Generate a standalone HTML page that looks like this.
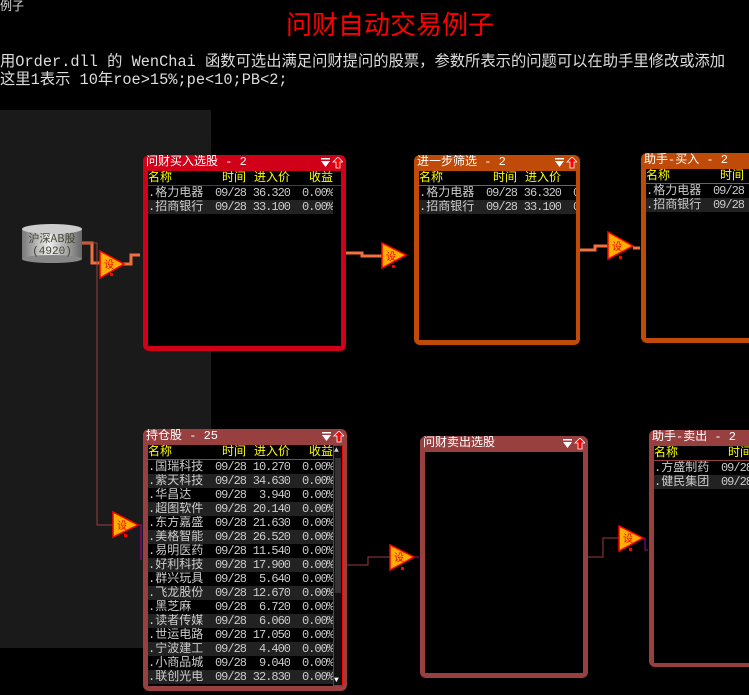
<!DOCTYPE html>
<html><head><meta charset="utf-8">
<style>
*{margin:0;padding:0;box-sizing:border-box}
body{width:749px;height:695px;background:#000;position:relative;overflow:hidden;font-family:"Liberation Mono","Noto Sans CJK SC","WenQuanYi Zen Hei",monospace;color:#ddd}
.abs{position:absolute}
.t{font-size:12px;line-height:14px;white-space:nowrap}
.panel{position:absolute;border-radius:6px;overflow:hidden}
.ttl{position:absolute;left:3px;top:0;color:#fff;font-size:12px;line-height:15px;white-space:nowrap}
.icons{position:absolute;right:3px;top:2px;width:24px;height:12px}
.inner{position:absolute;background:#000;overflow:hidden}
table{border-collapse:collapse;font-size:12px;line-height:14px;white-space:nowrap;table-layout:fixed}
td{padding:0;height:14px;overflow:hidden;color:#ccc}
td.n{width:56px;text-align:left}
td.tm{width:42px;text-align:right;letter-spacing:-1px}
td.p{width:44px;text-align:right;letter-spacing:-1px}
td.g{width:43px;text-align:right;letter-spacing:-1px}
tr.h td{color:#ff0;height:14px;letter-spacing:0}
tr.alt td{background:#222}
</style></head><body>
<div class="abs t" style="left:0;top:0;color:#ddd">例子</div>
<div class="abs" style="left:286px;top:8px;color:#f00;font-size:26px;line-height:32px;white-space:nowrap;font-family:'Noto Sans CJK SC',sans-serif">问财自动交易例子</div>
<div class="abs" style="left:0;top:53px;font-size:15.3px;line-height:18px;color:#ddd;white-space:nowrap">用Order.dll 的 WenChai 函数可选出满足问财提问的股票，参数所表示的问题可以在助手里修改或添加<br>这里1表示 10年roe&gt;15%;pe&lt;10;PB&lt;2;</div>
<div class="abs" style="left:0;top:110px;width:211px;height:538px;background:#1a1a1a"></div>

<svg class="abs" style="left:0;top:0" width="749" height="695">
 <defs><linearGradient id="cg" x1="0" x2="1"><stop offset="0" stop-color="#777"/><stop offset=".45" stop-color="#eee"/><stop offset="1" stop-color="#666"/></linearGradient></defs>
 <rect x="22" y="229" width="60" height="30" fill="url(#cg)"/>
 <ellipse cx="52" cy="259" rx="30" ry="4" fill="#888"/>
 <ellipse cx="52" cy="229" rx="30" ry="5" fill="#ccc"/>
 <text x="52" y="242" font-size="11" text-anchor="middle" fill="#443" font-family="Noto Sans CJK SC,sans-serif">沪深AB股</text>
 <text x="52" y="254" font-size="11" text-anchor="middle" fill="#443" font-family="Liberation Mono,monospace">(4920)</text>
 <g fill="none" stroke="#f07040" stroke-width="3">
  <path d="M82 243 H92 V263 H100"/>
  <path d="M123 264 H131 V255 H140"/>
  <path d="M346 253 H362 V256 H382"/>
  <path d="M580 250 H595 V246 H608"/>
  <path d="M633 248 H640"/>
 </g>
 <g fill="none" stroke="#9a4040" stroke-width="1">
  <path d="M82 243 H97 V525 H113"/>
  <path d="M347 565 H368 V557 H390"/>
  <path d="M588 557 H603 V538 H619"/>
 </g>
 <g fill="none" stroke="#b000b0" stroke-width="1">
  <path d="M138 525 H141 V560"/>
  <path d="M414 557 H419"/>
  <path d="M643 538 H645 V550 H648"/>
 </g>
 <g stroke="#f00" stroke-width="1.5" fill="#ffb000">
  <path d="M100 251 L100 278 L124 264 Z"/>
  <path d="M382 243 L382 268 L406 255 Z"/>
  <path d="M608 232 L608 259 L633 246 Z"/>
  <path d="M113 512 L113 537 L138 525 Z"/>
  <path d="M390 545 L390 570 L414 557 Z"/>
  <path d="M619 526 L619 551 L643 538 Z"/>
 </g>
 <g font-size="10" fill="#e00" font-family="Noto Sans CJK SC,sans-serif">
  <text x="104" y="268">设</text><text x="386" y="260">设</text><text x="612" y="250">设</text>
  <text x="117" y="529">设</text><text x="394" y="561">设</text><text x="623" y="542">设</text>
 </g>
 <g fill="#f00">
  <rect x="110" y="273" width="3" height="3"/><rect x="392" y="265" width="3" height="3"/><rect x="619" y="256" width="3" height="3"/>
  <rect x="124" y="534" width="3" height="3"/><rect x="401" y="567" width="3" height="3"/><rect x="629" y="548" width="3" height="3"/>
 </g>
</svg>

<!-- Panel 1 -->
<div class="panel" style="left:143px;top:155px;width:203px;height:196px;background:#d00018">
 <div class="ttl">问财买入选股 - 2</div>
 <svg class="icons" viewBox="0 0 24 12"><rect x="2" y="1" width="9" height="1.5" fill="#fff"/><path d="M2 4 H11 L6.5 10 Z" fill="#fff"/><path d="M19 0 L24 5 H21 V11 H17 V5 H14 Z" fill="#f00" stroke="#fff" stroke-width="0.8"/></svg>
 <div class="inner" style="left:5px;top:16px;width:193px;height:175px">
  <table><tr class="h"><td class="n">名称</td><td class="tm">时间</td><td class="p">进入价</td><td class="g">收益</td></tr></table>
  <div style="height:1px;background:#d00018;width:193px"></div>
  <table><tr><td class="n">.格力电器</td><td class="tm">09/28</td><td class="p">36.320</td><td class="g">0.00%</td></tr>
  <tr class="alt"><td class="n">.招商银行</td><td class="tm">09/28</td><td class="p">33.100</td><td class="g">0.00%</td></tr></table>
 </div>
</div>

<!-- Panel 2 -->
<div class="panel" style="left:414px;top:155px;width:166px;height:190px;background:#c04a08">
 <div class="ttl">进一步筛选 - 2</div>
 <svg class="icons" viewBox="0 0 24 12"><rect x="2" y="1" width="9" height="1.5" fill="#fff"/><path d="M2 4 H11 L6.5 10 Z" fill="#fff"/><path d="M19 0 L24 5 H21 V11 H17 V5 H14 Z" fill="#f00" stroke="#fff" stroke-width="0.8"/></svg>
 <div class="inner" style="left:5px;top:16px;width:157px;height:169px">
  <table style="width:185px"><tr class="h"><td class="n">名称</td><td class="tm">时间</td><td class="p">进入价</td><td class="g">收益</td></tr></table>
  <div style="height:1px;background:#c04a08;width:157px"></div>
  <table style="width:185px"><tr><td class="n">.格力电器</td><td class="tm">09/28</td><td class="p">36.320</td><td class="g">0.00%</td></tr>
  <tr class="alt"><td class="n">.招商银行</td><td class="tm">09/28</td><td class="p">33.100</td><td class="g">0.00%</td></tr></table>
 </div>
</div>

<!-- Panel 3 -->
<div class="panel" style="left:641px;top:153px;width:120px;height:190px;background:#c04a08">
 <div class="ttl">助手-买入 - 2</div>
 <div class="inner" style="left:5px;top:16px;width:115px;height:169px">
  <table style="width:185px"><tr class="h"><td class="n">名称</td><td class="tm">时间</td><td class="p">进入价</td><td class="g">收益</td></tr></table>
  <div style="height:1px;background:#c04a08;width:115px"></div>
  <table style="width:185px"><tr><td class="n">.格力电器</td><td class="tm">09/28</td><td class="p">36.320</td><td class="g">0.00%</td></tr>
  <tr class="alt"><td class="n">.招商银行</td><td class="tm">09/28</td><td class="p">33.100</td><td class="g">0.00%</td></tr></table>
 </div>
</div>

<!-- Panel 4 -->
<div class="panel" style="left:143px;top:429px;width:204px;height:262px;background:#984040">
 <div class="ttl">持仓股 - 25</div>
 <svg class="icons" viewBox="0 0 24 12"><rect x="2" y="1" width="9" height="1.5" fill="#fff"/><path d="M2 4 H11 L6.5 10 Z" fill="#fff"/><path d="M19 0 L24 5 H21 V11 H17 V5 H14 Z" fill="#f00" stroke="#fff" stroke-width="0.8"/></svg>
 <div class="inner" style="left:5px;top:16px;width:195px;height:241px">
  <table><tr class="h"><td class="n">名称</td><td class="tm">时间</td><td class="p">进入价</td><td class="g">收益</td></tr></table>
  <div style="height:1px;background:#984040;width:185px"></div>
  <table>
  <tr><td class="n">.国瑞科技</td><td class="tm">09/28</td><td class="p">10.270</td><td class="g">0.00%</td></tr>
  <tr class="alt"><td class="n">.紫天科技</td><td class="tm">09/28</td><td class="p">34.630</td><td class="g">0.00%</td></tr>
  <tr><td class="n">.华昌达</td><td class="tm">09/28</td><td class="p">3.940</td><td class="g">0.00%</td></tr>
  <tr class="alt"><td class="n">.超图软件</td><td class="tm">09/28</td><td class="p">20.140</td><td class="g">0.00%</td></tr>
  <tr><td class="n">.东方嘉盛</td><td class="tm">09/28</td><td class="p">21.630</td><td class="g">0.00%</td></tr>
  <tr class="alt"><td class="n">.美格智能</td><td class="tm">09/28</td><td class="p">26.520</td><td class="g">0.00%</td></tr>
  <tr><td class="n">.易明医药</td><td class="tm">09/28</td><td class="p">11.540</td><td class="g">0.00%</td></tr>
  <tr class="alt"><td class="n">.好利科技</td><td class="tm">09/28</td><td class="p">17.900</td><td class="g">0.00%</td></tr>
  <tr><td class="n">.群兴玩具</td><td class="tm">09/28</td><td class="p">5.640</td><td class="g">0.00%</td></tr>
  <tr class="alt"><td class="n">.飞龙股份</td><td class="tm">09/28</td><td class="p">12.670</td><td class="g">0.00%</td></tr>
  <tr><td class="n">.黑芝麻</td><td class="tm">09/28</td><td class="p">6.720</td><td class="g">0.00%</td></tr>
  <tr class="alt"><td class="n">.读者传媒</td><td class="tm">09/28</td><td class="p">6.060</td><td class="g">0.00%</td></tr>
  <tr><td class="n">.世运电路</td><td class="tm">09/28</td><td class="p">17.050</td><td class="g">0.00%</td></tr>
  <tr class="alt"><td class="n">.宁波建工</td><td class="tm">09/28</td><td class="p">4.400</td><td class="g">0.00%</td></tr>
  <tr><td class="n">.小商品城</td><td class="tm">09/28</td><td class="p">9.040</td><td class="g">0.00%</td></tr>
  <tr class="alt"><td class="n">.联创光电</td><td class="tm">09/28</td><td class="p">32.830</td><td class="g">0.00%</td></tr>
  </table>
  <div class="abs" style="left:185px;top:0;width:10px;height:241px;border:1px solid #f00;background:#111">
   <div class="abs" style="left:1px;top:12px;width:6px;height:135px;background:#333"></div>
   <div class="abs" style="left:0;top:0;font-size:8px;color:#ccc;line-height:9px">▲</div>
   <div class="abs" style="left:0;bottom:0;font-size:8px;color:#fff;line-height:9px">▼</div>
  </div>
 </div>
</div>

<!-- Panel 5 -->
<div class="panel" style="left:420px;top:436px;width:168px;height:242px;background:#984040">
 <div class="ttl">问财卖出选股</div>
 <svg class="icons" viewBox="0 0 24 12"><rect x="2" y="1" width="9" height="1.5" fill="#fff"/><path d="M2 4 H11 L6.5 10 Z" fill="#fff"/><path d="M19 0 L24 5 H21 V11 H17 V5 H14 Z" fill="#f00" stroke="#fff" stroke-width="0.8"/></svg>
 <div class="inner" style="left:5px;top:16px;width:158px;height:221px"></div>
</div>

<!-- Panel 6 -->
<div class="panel" style="left:649px;top:430px;width:112px;height:237px;background:#984040">
 <div class="ttl">助手-卖出 - 2</div>
 <div class="inner" style="left:5px;top:16px;width:107px;height:217px">
  <table style="width:185px"><tr class="h"><td class="n">名称</td><td class="tm">时间</td><td class="p">进入价</td><td class="g">收益</td></tr></table>
  <div style="height:1px;background:#984040;width:107px"></div>
  <table style="width:185px"><tr><td class="n">.方盛制药</td><td class="tm">09/28</td><td class="p"></td><td class="g"></td></tr>
  <tr class="alt"><td class="n">.健民集团</td><td class="tm">09/28</td><td class="p"></td><td class="g"></td></tr></table>
 </div>
</div>
</body></html>
